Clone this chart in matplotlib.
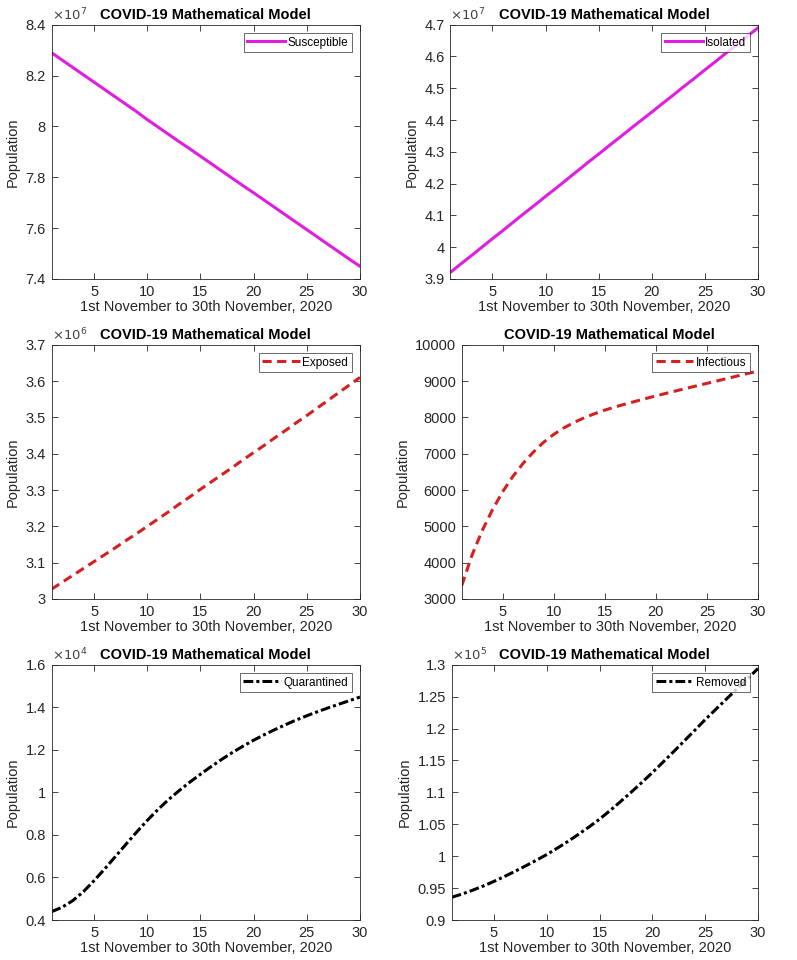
import matplotlib
matplotlib.use("Agg")
import matplotlib.pyplot as plt
from matplotlib.ticker import FuncFormatter, MultipleLocator

plt.rcParams['font.family'] = ['Liberation Sans', 'DejaVu Sans']

days = list(range(1, 31))

susceptible = [8.290, 8.261, 8.232, 8.203, 8.174, 8.145, 8.116, 8.087, 8.058, 8.027,
               7.998, 7.969, 7.940, 7.912, 7.883, 7.854, 7.825, 7.796, 7.767, 7.739,
               7.710, 7.681, 7.652, 7.623, 7.594, 7.565, 7.536, 7.507, 7.478, 7.450]  # x1e7
isolated = [3.920, 3.947, 3.973, 4.000, 4.027, 4.053, 4.080, 4.107, 4.133, 4.160,
            4.186, 4.213, 4.240, 4.267, 4.293, 4.320, 4.346, 4.373, 4.399, 4.425,
            4.452, 4.478, 4.505, 4.531, 4.558, 4.584, 4.611, 4.637, 4.664, 4.690]  # x1e7
exposed = [3.027, 3.046, 3.065, 3.084, 3.103, 3.122, 3.141, 3.161, 3.180, 3.200,
           3.220, 3.240, 3.261, 3.281, 3.302, 3.322, 3.342, 3.362, 3.383, 3.403,
           3.423, 3.444, 3.464, 3.485, 3.505, 3.526, 3.547, 3.568, 3.589, 3.610]  # x1e6
infectious = [3370, 4200, 4880, 5450, 5950, 6370, 6730, 7040, 7310, 7530,
              7710, 7860, 7990, 8100, 8200, 8285, 8365, 8442, 8517, 8590,
              8661, 8731, 8800, 8868, 8936, 9004, 9072, 9140, 9208, 9275]
quarantined = [0.439, 0.460, 0.491, 0.533, 0.585, 0.640, 0.698, 0.756, 0.813, 0.868,
               0.919, 0.966, 1.008, 1.048, 1.085, 1.121, 1.155, 1.187, 1.217, 1.245,
               1.271, 1.295, 1.318, 1.340, 1.360, 1.379, 1.397, 1.414, 1.431, 1.448]  # x1e4
removed = [0.9356, 0.9408, 0.9468, 0.9533, 0.9605, 0.9682, 0.9763, 0.9848, 0.9935, 1.0026,
           1.0126, 1.0231, 1.0342, 1.0458, 1.0580, 1.0716, 1.0858, 1.1004, 1.1154, 1.1310,
           1.1472, 1.1636, 1.1802, 1.1970, 1.2140, 1.2300, 1.2460, 1.2620, 1.2780, 1.2940]  # x1e5

TITLE = 'COVID-19 Mathematical Model'
XLABEL = '1st November to 30th November, 2020'
YLABEL = 'Population'

W, H = 797, 960
fig = plt.figure(figsize=(W / 100, H / 100), dpi=100)

def rect(l, t, r, b):
    return [l / W, 1 - b / H, (r - l) / W, (b - t) / H]

panels = [
    dict(rect=rect(51.5, 24.7, 360, 279), y=susceptible, exp=7,
         ylim=(7.4, 8.4), step=0.2, label='Susceptible', color='#e01ee0', ls='-'),
    dict(rect=rect(450, 24.7, 758, 279), y=isolated, exp=7,
         ylim=(3.9, 4.7), step=0.1, label='Isolated', color='#e01ee0', ls='-'),
    dict(rect=rect(51.5, 344.7, 360, 599), y=exposed, exp=6,
         ylim=(3.0, 3.7), step=0.1, label='Exposed', color='#d42020', ls='--'),
    dict(rect=rect(461.7, 344.7, 758, 599), y=infectious, exp=None,
         ylim=(3000, 10000), step=1000, label='Infectious', color='#d42020', ls='--'),
    dict(rect=rect(51.5, 664.7, 360, 920), y=quarantined, exp=4,
         ylim=(0.4, 1.6), step=0.2, label='Quarantined', color='black', ls='-.'),
    dict(rect=rect(451.7, 664.7, 758, 920), y=removed, exp=5,
         ylim=(0.9, 1.3), step=0.05, label='Removed', color='black', ls='-.'),
]

axcol = '#262626'
for p in panels:
    ax = fig.add_axes(p['rect'])
    line, = ax.plot(days, p['y'], color=p['color'], linestyle=p['ls'], linewidth=2.2,
                    label=p['label'])
    if p['ls'] == '--':
        line.set_dashes((3, 1.8))
    elif p['ls'] == '-.':
        line.set_dashes((3.2, 1.0, 1.0, 1.0))
    ax.set_xlim(1, 30)
    ax.set_ylim(*p['ylim'])
    ax.set_xticks([5, 10, 15, 20, 25, 30])
    ax.yaxis.set_major_locator(MultipleLocator(p['step']))
    ax.yaxis.set_major_formatter(FuncFormatter(lambda v, pos: ('%g' % round(v, 4))))
    ax.tick_params(direction='in', top=True, right=True, length=4, width=0.6,
                   labelsize=10.5, colors=axcol, labelcolor=axcol, pad=4)
    for s in ax.spines.values():
        s.set_color('#262626')
        s.set_linewidth(0.6)
    ax.set_title(TITLE, fontsize=10.5, fontweight='bold', pad=4)
    ax.set_xlabel(XLABEL, fontsize=10.5, color=axcol, labelpad=1)
    ax.set_ylabel(YLABEL, fontsize=10.5, color=axcol, labelpad=4)
    if p['exp'] is not None:
        ax.text(0.0, 1.005, r'$\times10^{%d}$' % p['exp'], transform=ax.transAxes,
                ha='left', va='bottom', fontsize=9.5, color='#404040')
    leg = ax.legend(loc='upper right', fontsize=8.5, frameon=True, fancybox=False,
                    handlelength=3.2, handletextpad=0.2, borderpad=0.3,
                    borderaxespad=0.7)
    leg.get_frame().set_edgecolor('#262626')
    leg.get_frame().set_linewidth(0.6)

fig.savefig('out.png', dpi=100)
